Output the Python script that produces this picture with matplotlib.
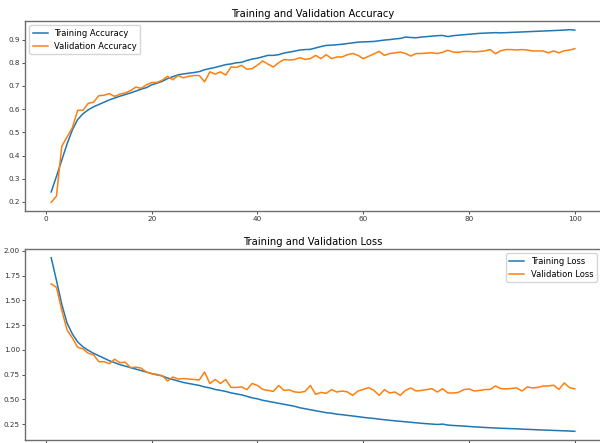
import matplotlib
matplotlib.use("Agg")
import matplotlib.pyplot as plt

plt.rcParams['font.family'] = ['Liberation Sans Narrow', 'DejaVu Sans']

epochs = list(range(1, 101))

train_acc = [
    0.243, 0.31, 0.38, 0.45, 0.51, 0.555, 0.58, 0.597, 0.61, 0.62,
    0.63, 0.64, 0.648, 0.656, 0.663, 0.67, 0.678, 0.686, 0.693, 0.705,
    0.712, 0.72, 0.732, 0.74, 0.748, 0.752, 0.755, 0.758, 0.762, 0.77,
    0.775, 0.78, 0.786, 0.792, 0.795, 0.80, 0.802, 0.81, 0.816, 0.82,
    0.826, 0.832, 0.832, 0.835, 0.842, 0.846, 0.85, 0.855, 0.857, 0.858,
    0.864, 0.87, 0.875, 0.876, 0.878, 0.88, 0.883, 0.886, 0.889, 0.89,
    0.891, 0.892, 0.895, 0.898, 0.90, 0.903, 0.905, 0.911, 0.909, 0.908,
    0.911, 0.913, 0.915, 0.917, 0.918, 0.913, 0.917, 0.919, 0.921, 0.923,
    0.925, 0.927, 0.928, 0.929, 0.93, 0.929, 0.93, 0.931, 0.932, 0.933,
    0.934, 0.935, 0.936, 0.937, 0.938, 0.939, 0.94, 0.941, 0.943, 0.941,
]

val_acc = [
    0.198, 0.225, 0.44, 0.48, 0.52, 0.595, 0.595, 0.625, 0.63, 0.658,
    0.66, 0.667, 0.655, 0.665, 0.67, 0.68, 0.695, 0.69, 0.705, 0.715,
    0.715, 0.725, 0.742, 0.727, 0.745, 0.735, 0.742, 0.745, 0.745, 0.718,
    0.761, 0.751, 0.761, 0.747, 0.782, 0.78, 0.789, 0.772, 0.775, 0.79,
    0.808, 0.794, 0.782, 0.80, 0.814, 0.812, 0.814, 0.822, 0.815, 0.818,
    0.832, 0.818, 0.835, 0.818, 0.825, 0.825, 0.835, 0.84, 0.832, 0.818,
    0.828, 0.838, 0.849, 0.832, 0.84, 0.843, 0.846, 0.84, 0.829, 0.84,
    0.84, 0.842, 0.843, 0.84, 0.845, 0.854, 0.846, 0.845, 0.849, 0.849,
    0.847, 0.849, 0.851, 0.857, 0.839, 0.852, 0.857, 0.857, 0.855, 0.857,
    0.855, 0.851, 0.851, 0.851, 0.843, 0.851, 0.843, 0.852, 0.855, 0.861,
]

train_loss = [
    1.93, 1.70, 1.46, 1.27, 1.16, 1.08, 1.03, 0.995, 0.965, 0.94,
    0.915, 0.89, 0.87, 0.85, 0.835, 0.82, 0.805, 0.79, 0.775, 0.76,
    0.75, 0.735, 0.715, 0.70, 0.685, 0.67, 0.66, 0.65, 0.64, 0.625,
    0.615, 0.60, 0.59, 0.58, 0.565, 0.555, 0.545, 0.53, 0.515, 0.505,
    0.49, 0.48, 0.47, 0.46, 0.45, 0.44, 0.43, 0.415, 0.405, 0.395,
    0.385, 0.375, 0.365, 0.36, 0.35, 0.345, 0.338, 0.332, 0.325, 0.318,
    0.312, 0.307, 0.30, 0.294, 0.288, 0.283, 0.278, 0.273, 0.268, 0.263,
    0.258, 0.254, 0.25, 0.246, 0.25, 0.24, 0.236, 0.233, 0.23, 0.226,
    0.222, 0.219, 0.216, 0.213, 0.21, 0.208, 0.206, 0.204, 0.202, 0.199,
    0.197, 0.195, 0.192, 0.19, 0.188, 0.186, 0.184, 0.182, 0.18, 0.177,
]

val_loss = [
    1.665, 1.63, 1.40, 1.20, 1.12, 1.025, 1.01, 0.965, 0.95, 0.88,
    0.88, 0.86, 0.905, 0.87, 0.875, 0.82, 0.825, 0.815, 0.775, 0.76,
    0.745, 0.74, 0.685, 0.725, 0.705, 0.71, 0.705, 0.70, 0.695, 0.776,
    0.66, 0.70, 0.66, 0.70, 0.62, 0.62, 0.625, 0.598, 0.66, 0.64,
    0.60, 0.59, 0.58, 0.64, 0.59, 0.595, 0.575, 0.57, 0.58, 0.64,
    0.55, 0.57, 0.56, 0.598, 0.574, 0.584, 0.575, 0.54, 0.584, 0.60,
    0.618, 0.591, 0.54, 0.598, 0.564, 0.574, 0.54, 0.591, 0.615, 0.584,
    0.59, 0.598, 0.608, 0.574, 0.608, 0.564, 0.564, 0.57, 0.598, 0.605,
    0.584, 0.59, 0.598, 0.60, 0.635, 0.608, 0.605, 0.61, 0.615, 0.584,
    0.625, 0.615, 0.62, 0.635, 0.635, 0.642, 0.60, 0.665, 0.618, 0.605,
]


def style_axes(ax):
    for s in ax.spines.values():
        s.set_color('#6e6e6e')
        s.set_linewidth(1.0)
    ax.tick_params(labelsize=5.2, length=2.5, width=0.6, pad=1.2,
                   colors='#333333')


fig = plt.figure(figsize=(6, 4.43), dpi=100)

ax1 = fig.add_axes([25 / 600, 1 - 211 / 443, 576 / 600, 190 / 443])
ax1.plot(epochs, train_acc, color='#1f77b4', lw=1.1, label='Training Accuracy')
ax1.plot(epochs, val_acc, color='#ff7f0e', lw=1.1, label='Validation Accuracy')
ax1.set_title('Training and Validation Accuracy', fontsize=7.2, pad=3)
ax1.set_xticks([0, 20, 40, 60, 80, 100])
ax1.set_yticks([0.2, 0.3, 0.4, 0.5, 0.6, 0.7, 0.8, 0.9])
ax1.legend(loc='upper left', fontsize=6, handlelength=1.8)
style_axes(ax1)

# lower panel: its x labels sit below the crop in the reference
ax2 = fig.add_axes([25 / 600, 1 - 440 / 443, 576 / 600, 191 / 443])
ax2.plot(epochs, train_loss, color='#1f77b4', lw=1.1, label='Training Loss')
ax2.plot(epochs, val_loss, color='#ff7f0e', lw=1.1, label='Validation Loss')
ax2.set_title('Training and Validation Loss', fontsize=7.2, pad=3)
ax2.set_xticks([0, 20, 40, 60, 80, 100])
ax2.set_yticks([0.25, 0.5, 0.75, 1.0, 1.25, 1.5, 1.75, 2.0])
ax2.legend(loc='upper right', fontsize=6, handlelength=1.8)
style_axes(ax2)
ax2.tick_params(axis='x', labelbottom=False)

fig.savefig('out.png', dpi=100)
